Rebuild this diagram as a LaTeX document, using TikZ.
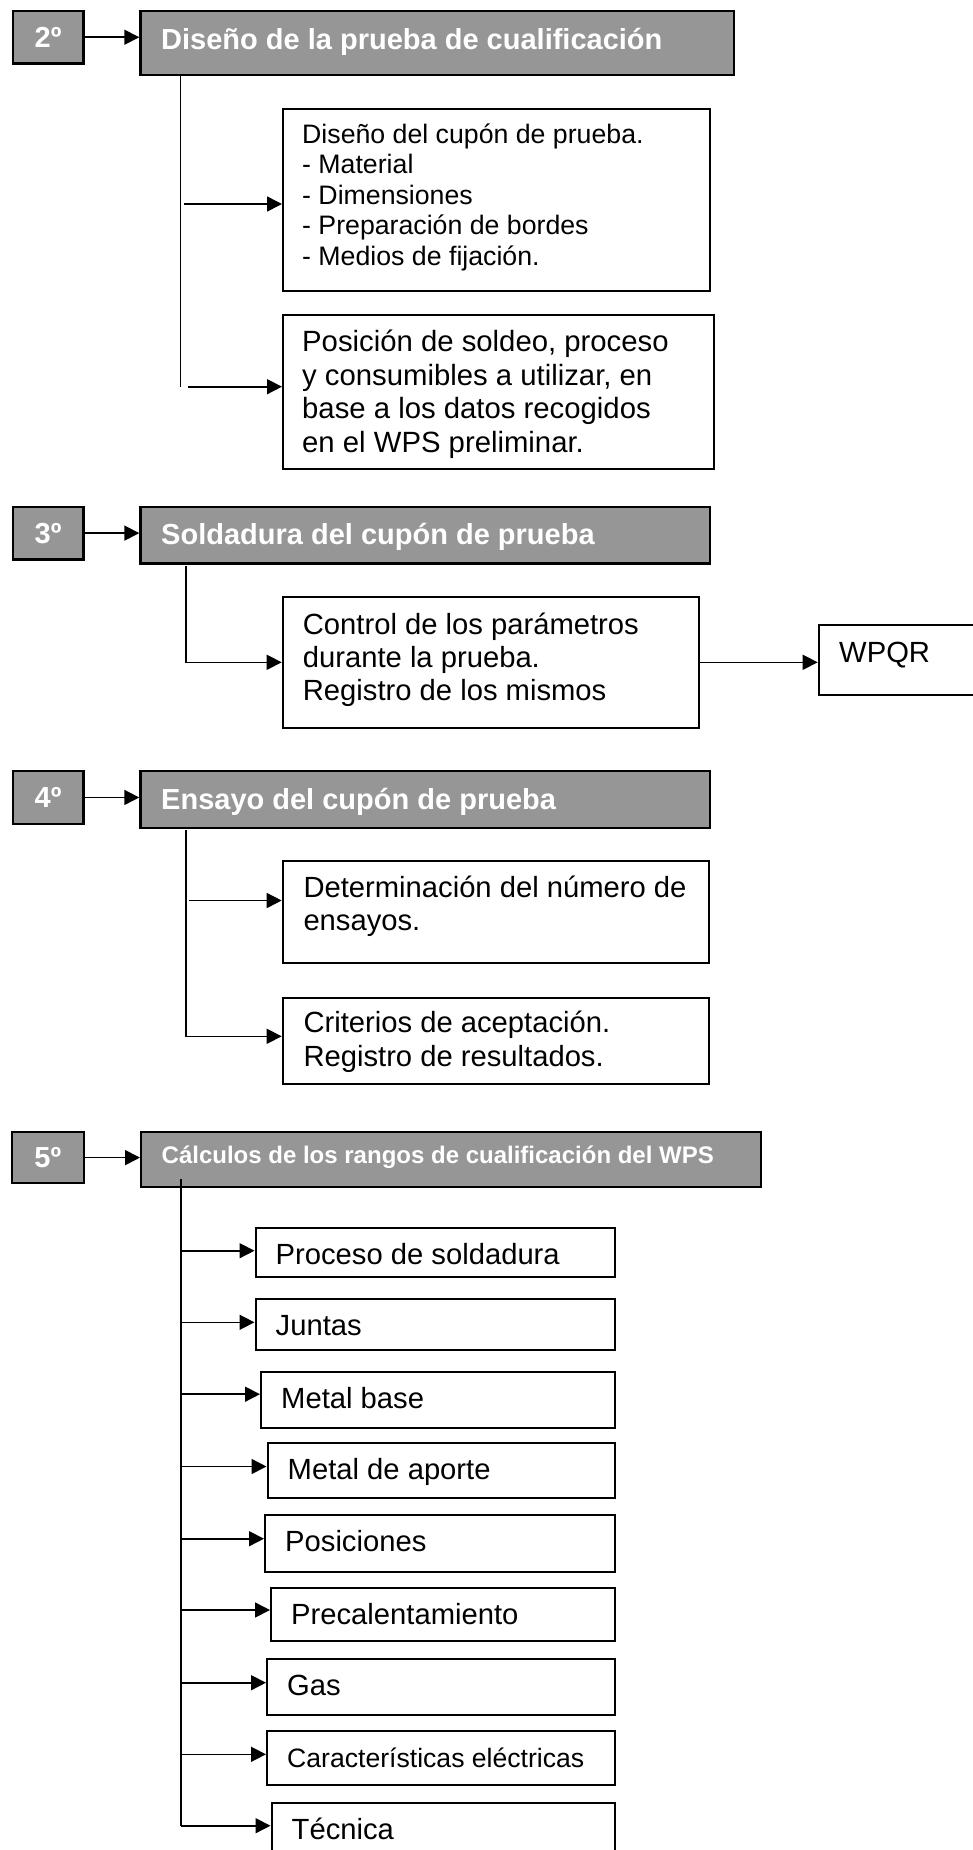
\documentclass[tikz,border=0pt]{standalone}
\usepackage{fontspec}
\setmainfont{Liberation Sans}
\usetikzlibrary{arrows.meta,calc}
\definecolor{hdr}{RGB}{150,150,150}
\newcommand{\fz}[2]{\fontsize{#1pt}{#2pt}\selectfont}
\newcommand{\tstrut}{\rule{0pt}{0.9em}}
\begin{document}
\begin{tikzpicture}[x=1pt,y=-1pt,
  numbox/.style={draw=black,line width=2.2pt,fill=hdr,inner sep=0pt,anchor=north west,text=white,font=\bfseries\fz{29}{33}},
  hdrbox/.style={draw=black,line width=2.2pt,fill=hdr,inner sep=0pt,anchor=north west},
  htxt/.style={anchor=base west,inner sep=0pt,text=white,font=\bfseries\fz{29}{33}},
  wbox/.style={draw=black,line width=2pt,fill=white,inner sep=0pt,anchor=north west},
  mtxt/.style={anchor=north west,inner sep=0pt,align=left},
  stxt/.style={anchor=base west,inner sep=0pt,font=\fz{29.2}{33.4}},
  conn/.style={line width=1.6pt},
  arr/.style={line width=1.6pt,-{Triangle[length=15pt,width=15pt]}},
]
\fill[white] (0,0) rectangle (972,1850);
\useasboundingbox (0,0) rectangle (972,1850);

% ---------- 2
\node[numbox,minimum width=70.6pt,minimum height=52.3pt] (n2) at (11.7,10) {2º};
\node[hdrbox,minimum width=593.7pt,minimum height=64pt] (h1) at (139.3,10) {};
\node[htxt] (h1t) at (161,49.3) {Diseño de la prueba de cualificación};
\draw[arr] (n2.east) -- (n2.east -| h1.west);

\node[wbox,minimum width=427pt,minimum height=182.3pt] (A) at (282,107.7) {};
\node[mtxt,font=\fz{26.7}{30.4}] (tA) at (302,119.3) {\tstrut Diseño del cupón de prueba.\\- Material\\- Dimensiones\\- Preparación de bordes\\- Medios de fijación.};
\node[wbox,minimum width=431pt,minimum height=154.3pt] (B) at (282,314) {};
\node[mtxt,font=\fz{29.3}{33.5}] (tB) at (302,325.3) {\tstrut Posición de soldeo, proceso\\y consumibles a utilizar, en\\base a los datos recogidos\\en el WPS preliminar.};

\coordinate (v2b) at (180.5,386.7);
\draw[conn] (h1.south west -| v2b) -- (v2b);
\coordinate (a2a) at (184.3,204);
\draw[arr] (a2a) -- (a2a -| A.west);
\coordinate (a2b) at (188,386.7);
\draw[arr] (a2b) -- (a2b -| B.west);

% ---------- 3
\node[numbox,minimum width=70.6pt,minimum height=52.6pt] (n3) at (11.7,505.7) {3º};
\node[hdrbox,minimum width=569.4pt,minimum height=56.6pt] (h2) at (139.3,505.7) {};
\node[htxt] (h2t) at (161,544.3) {Soldadura del cupón de prueba};
\draw[arr] (n3.east) -- (n3.east -| h2.west);

\node[wbox,minimum width=416.3pt,minimum height=130.6pt] (C) at (281.7,596) {};
\node[mtxt,font=\fz{29.2}{33.4}] (tC) at (302.7,607.7) {\tstrut Control de los parámetros\\durante la prueba.\\Registro de los mismos};
\node[wbox,minimum width=320pt,minimum height=70.3pt] (W) at (817.7,624) {};
\node[stxt] (tW) at (839,662.3) {WPQR};

\coordinate (v3t) at (185.7,566);
\coordinate (v3b) at (185.7,662.3);
\draw[arr] (v3t) -- (v3b) -- (v3b -| C.west);
\draw[arr] (C.east) -- (C.east -| W.west);

% ---------- 4
\node[numbox,minimum width=70.6pt,minimum height=52.7pt] (n4) at (11.7,770) {4º};
\node[hdrbox,minimum width=569.2pt,minimum height=56.5pt] (h3) at (139.3,770) {};
\node[htxt] (h3t) at (161,809) {Ensayo del cupón de prueba};
\draw[arr] (n4.east) -- (n4.east -| h3.west);

\node[wbox,minimum width=426.6pt,minimum height=102.3pt] (D) at (281.7,860) {};
\node[mtxt,font=\fz{29.2}{33.4}] (tD) at (303.3,871) {\tstrut Determinación del número de\\ensayos.};
\node[wbox,minimum width=426.6pt,minimum height=86pt] (E) at (281.7,996.5) {};
\node[mtxt,font=\fz{29.2}{33.4}] (tE) at (303.3,1006.4) {\tstrut Criterios de aceptación.\\Registro de resultados.};

\coordinate (v4t) at (185.7,830);
\coordinate (v4b) at (185.7,1036.3);
\draw[arr] (v4t) -- (v4b) -- (v4b -| E.west);
\coordinate (a4d) at (189.3,900.5);
\draw[arr] (a4d) -- (a4d -| D.west);

% ---------- 5
\node[numbox,minimum width=71.5pt,minimum height=51pt] (n5) at (11,1131) {5º};
\node[hdrbox,minimum width=620pt,minimum height=55pt] (h4) at (140,1131) {};
\node[htxt,font=\bfseries\fz{24}{28}] (h4t) at (161.5,1163.6) {Cálculos de los rangos de cualificación del WPS};
\draw[arr] (n5.east) -- (n5.east -| h4.west);

\node[wbox,minimum width=359.5pt,minimum height=49.3pt] (P1) at (254.5,1226.7) {};
\node[stxt] (t1) at (275.5,1264.2) {Proceso de soldadura};
\node[wbox,minimum width=359.5pt,minimum height=50.2pt] (P2) at (254.5,1298.3) {};
\node[stxt] (t2) at (275.5,1335.8) {Juntas};
\node[wbox,minimum width=354pt,minimum height=56.1pt] (P3) at (260,1370.5) {};
\node[stxt] (t3) at (281,1408) {Metal base};
\node[wbox,minimum width=347.5pt,minimum height=54.5pt] (P4) at (266.5,1442) {};
\node[stxt] (t4) at (287.5,1479.5) {Metal de aporte};
\node[wbox,minimum width=350pt,minimum height=56.7pt] (P5) at (264,1514) {};
\node[stxt] (t5) at (285,1551.5) {Posiciones};
\node[wbox,minimum width=344pt,minimum height=53.3pt] (P6) at (270,1586.7) {};
\node[stxt] (t6) at (291,1624.2) {Precalentamiento};
\node[wbox,minimum width=348pt,minimum height=56pt] (P7) at (266,1658) {};
\node[stxt] (t7) at (287,1695.5) {Gas};
\node[wbox,minimum width=348pt,minimum height=54.3pt] (P8) at (266,1730) {};
\node[stxt,font=\fz{26.6}{30}] (t8) at (287,1767.5) {Características eléctricas};
\node[wbox,minimum width=343.5pt,minimum height=80pt] (P9) at (270.5,1802.3) {};
\node[stxt] (t9) at (291.5,1839.8) {Técnica};

\coordinate (v5t) at (181,1179);
\coordinate (a51) at (181,1250.7);
\coordinate (a52) at (181,1322.3);
\coordinate (a53) at (181,1394.2);
\coordinate (a54) at (181,1466.5);
\coordinate (a55) at (181,1538.7);
\coordinate (a56) at (181,1610);
\coordinate (a57) at (181,1682.7);
\coordinate (a58) at (181,1754.3);
\coordinate (a59) at (181,1825.7);
\draw[conn] (v5t) -- (a59);
\draw[arr] (a51) -- (a51 -| P1.west);
\draw[arr] (a52) -- (a52 -| P2.west);
\draw[arr] (a53) -- (a53 -| P3.west);
\draw[arr] (a54) -- (a54 -| P4.west);
\draw[arr] (a55) -- (a55 -| P5.west);
\draw[arr] (a56) -- (a56 -| P6.west);
\draw[arr] (a57) -- (a57 -| P7.west);
\draw[arr] (a58) -- (a58 -| P8.west);
\draw[arr] (a59) -- (a59 -| P9.west);
\end{tikzpicture}
\end{document}
